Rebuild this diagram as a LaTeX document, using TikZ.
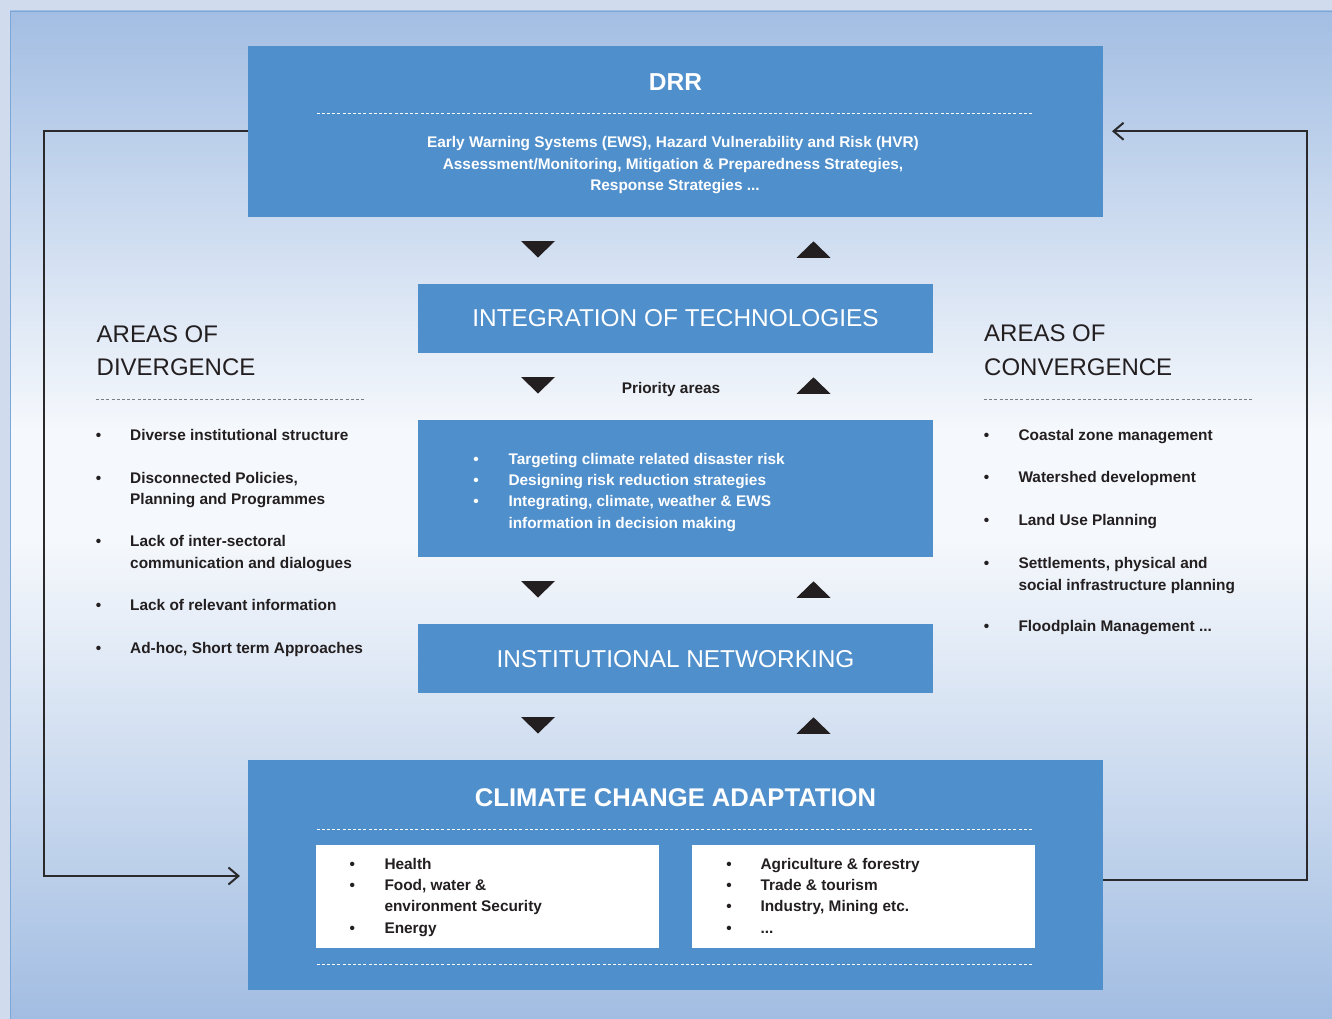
\documentclass[tikz,border=0pt]{standalone}
\usepackage{fontspec}
\setmainfont{Liberation Sans}
\usetikzlibrary{arrows.meta}
\definecolor{boxblue}{HTML}{4F8FCC}
\definecolor{darktext}{HTML}{231F20}
\definecolor{bgtop}{HTML}{A3BEE3}
\definecolor{bgmid}{HTML}{F5F8FC}
\definecolor{bgbot}{HTML}{A2BDE2}
\definecolor{outerbg}{HTML}{D0DCEE}
\definecolor{frameline}{HTML}{7AA6D8}
\definecolor{linecol}{HTML}{2A2A2D}
\definecolor{dashgray}{HTML}{7A7C80}
\newcommand\bodyfont{\fontsize{15.4}{21.4}\selectfont\bfseries}
\newcommand\headfont{\fontsize{24}{34}\selectfont}
\newcommand\bandfont{\fontsize{24.4}{30}\selectfont}
\tikzset{
  box/.style={fill=boxblue, draw=none, inner sep=0pt, outer sep=0pt, anchor=center},
  wbox/.style={fill=white, draw=none, inner sep=0pt, outer sep=0pt, anchor=center},
  wtxt/.style={text=white, font=\bodyfont, anchor=base, inner sep=0pt},
  dtxt/.style={text=darktext, font=\bodyfont, anchor=base west, inner sep=0pt},
  wl/.style={text=white, font=\bodyfont, anchor=base west, inner sep=0pt},
  bul/.style={text=darktext, font=\bodyfont, anchor=base, inner sep=0pt},
  wbul/.style={text=white, font=\bodyfont, anchor=base, inner sep=0pt},
  head/.style={text=darktext, font=\headfont, anchor=base west, inner sep=0pt},
  band/.style={text=white, font=\bandfont, anchor=base, inner sep=0pt},
  wdash/.style={draw=white, line width=0.9pt, dash pattern=on 3pt off 2.2pt},
  gdash/.style={draw=dashgray, line width=0.7pt, dash pattern=on 3pt off 2.2pt},
  tri/.style={fill=darktext, draw=none},
  conn/.style={draw=linecol, line width=2pt, -{Straight Barb[length=10pt,width=17pt]}}
}
\begin{document}
\begin{tikzpicture}[x=1pt,y=-1pt]
\useasboundingbox (0,0) rectangle (1332,1019);
% background
\fill[outerbg] (0,0) rectangle (1332,1019);
\shade[top color=bgtop, bottom color=bgmid] (10,11) rectangle (1332,430);
\fill[bgmid] (10,429.5) rectangle (1332,540.5);
\shade[top color=bgmid, bottom color=bgbot] (10,540) rectangle (1332,1019);
\draw[frameline, line width=1pt] (10.5,1019) -- (10.5,11.5) -- (1332,11.5);

% boxes
\node[box, minimum width=855pt, minimum height=170.5pt] (drr) at (675.5,131.25) {};
\node[box, minimum width=515pt, minimum height=68.5pt] (integ) at (675.5,318.25) {};
\node[box, minimum width=515pt, minimum height=136.5pt] (prio) at (675.5,488.25) {};
\node[box, minimum width=515pt, minimum height=68.5pt] (inst) at (675.5,658.25) {};
\node[box, minimum width=855pt, minimum height=230pt] (cca) at (675.5,875) {};
\node[wbox, minimum width=343pt, minimum height=102.5pt] (whl) at (487.5,896.25) {};
\node[wbox, minimum width=343pt, minimum height=102.5pt] (whr) at (863.5,896.25) {};

% DRR
\node[text=white, font=\fontsize{24.5}{28}\selectfont\bfseries, anchor=base, inner sep=0pt] (drrt) at (675.5,91) {DRR};
\draw[wdash] (316.5,113.5) -- (1034,113.5);
\node[wtxt] (d1) at (673,147.3) {Early Warning Systems (EWS), Hazard Vulnerability and Risk (HVR)};
\node[wtxt] (d2) at (673,169.3) {Assessment/Monitoring, Mitigation \& Preparedness Strategies,};
\node[wtxt] (d3) at (675,190.3) {Response Strategies ...};

% bands
\node[band] (integt) at (675.5,326) {INTEGRATION OF TECHNOLOGIES};
\node[band] (instt) at (675.5,667) {INSTITUTIONAL NETWORKING};
\node[text=darktext, font=\bodyfont, anchor=base, inner sep=0pt] (prt) at (671,393.8) {Priority areas};

% priority box
\node[wbul] (pb1) at (476,464.3) {•};
\node[wl] (p1) at (508.3,464.3) {Targeting climate related disaster risk};
\node[wbul] (pb2) at (476,485.3) {•};
\node[wl] (p2) at (508.3,485.3) {Designing risk reduction strategies};
\node[wbul] (pb3) at (476,506.7) {•};
\node[wl] (p3) at (508.3,506.7) {Integrating, climate, weather \& EWS};
\node[wl] (p4) at (508.3,528.3) {information in decision making};

% CCA
\node[text=white, font=\fontsize{25.6}{30}\selectfont\bfseries, anchor=base, inner sep=0pt] (ccat) at (675.5,806) {CLIMATE CHANGE ADAPTATION};
\draw[wdash] (316.5,829) -- (1034,829);
\draw[wdash] (316.5,964.5) -- (1034,964.5);
\node[bul] (cb1) at (352.3,869) {•};
\node[dtxt] (c1) at (384.3,869) {Health};
\node[bul] (cb2) at (352.3,890) {•};
\node[dtxt] (c2) at (384.3,890) {Food, water \&};
\node[dtxt] (c3) at (384.3,911.7) {environment Security};
\node[bul] (cb4) at (352.3,933.3) {•};
\node[dtxt] (c4) at (384.3,933.3) {Energy};
\node[bul] (eb1) at (729,869) {•};
\node[dtxt] (e1) at (760.3,869) {Agriculture \& forestry};
\node[bul] (eb2) at (729,890) {•};
\node[dtxt] (e2) at (760.3,890) {Trade \& tourism};
\node[bul] (eb3) at (729,911.7) {•};
\node[dtxt] (e3) at (760.3,911.7) {Industry, Mining etc.};
\node[bul] (eb4) at (729,933.3) {•};
\node[dtxt] (e4) at (760.3,933.3) {...};

% left column
\node[head] (lh1) at (96.5,342.3) {AREAS OF};
\node[head] (lh2) at (96.5,375.7) {DIVERGENCE};
\draw[gdash] (96,399.3) -- (366,399.3);
\node[bul] (lb1) at (98.5,440) {•};
\node[dtxt] (l1) at (130,440) {Diverse institutional structure};
\node[bul] (lb2) at (98.5,483.3) {•};
\node[dtxt] (l2a) at (130,483.3) {Disconnected Policies,};
\node[dtxt] (l2b) at (130,504.5) {Planning and Programmes};
\node[bul] (lb3) at (98.5,546.7) {•};
\node[dtxt] (l3a) at (130,546.7) {Lack of inter-sectoral};
\node[dtxt] (l3b) at (130,568.3) {communication and dialogues};
\node[bul] (lb4) at (98.5,610.7) {•};
\node[dtxt] (l4) at (130,610.7) {Lack of relevant information};
\node[bul] (lb5) at (98.5,653.3) {•};
\node[dtxt] (l5) at (130,653.3) {Ad-hoc, Short term Approaches};

% right column
\node[head] (rh1) at (984,341.7) {AREAS OF};
\node[head] (rh2) at (984,375.7) {CONVERGENCE};
\draw[gdash] (984,399.3) -- (1254,399.3);
\node[bul] (rb1) at (986.5,440) {•};
\node[dtxt] (r1) at (1018.3,440) {Coastal zone management};
\node[bul] (rb2) at (986.5,482.7) {•};
\node[dtxt] (r2) at (1018.3,482.7) {Watershed development};
\node[bul] (rb3) at (986.5,525.8) {•};
\node[dtxt] (r3) at (1018.3,525.8) {Land Use Planning};
\node[bul] (rb4) at (986.5,568.3) {•};
\node[dtxt] (r4a) at (1018.3,568.3) {Settlements, physical and};
\node[dtxt] (r4b) at (1018.3,590) {social infrastructure planning};
\node[bul] (rb5) at (986.5,631.7) {•};
\node[dtxt] (r5) at (1018.3,631.7) {Floodplain Management ...};

% triangles
\foreach \ty in {241,377,581,717}{
  \fill[tri] (521,\ty) -- (555,\ty) -- (538,\ty+16.5) -- cycle;
  \fill[tri] (796.5,\ty+16.8) -- (830.5,\ty+16.8) -- (813.5,\ty+0.3) -- cycle;
}

% feedback connectors
\draw[conn] (drr.west) -- ++(-204,0) |- ([xshift=-8pt,yshift=-1pt]cca.west);
\draw[conn] ([yshift=-5pt]cca.east) -- ++(204,0) |- ([xshift=9pt]drr.east);
\end{tikzpicture}
\end{document}
